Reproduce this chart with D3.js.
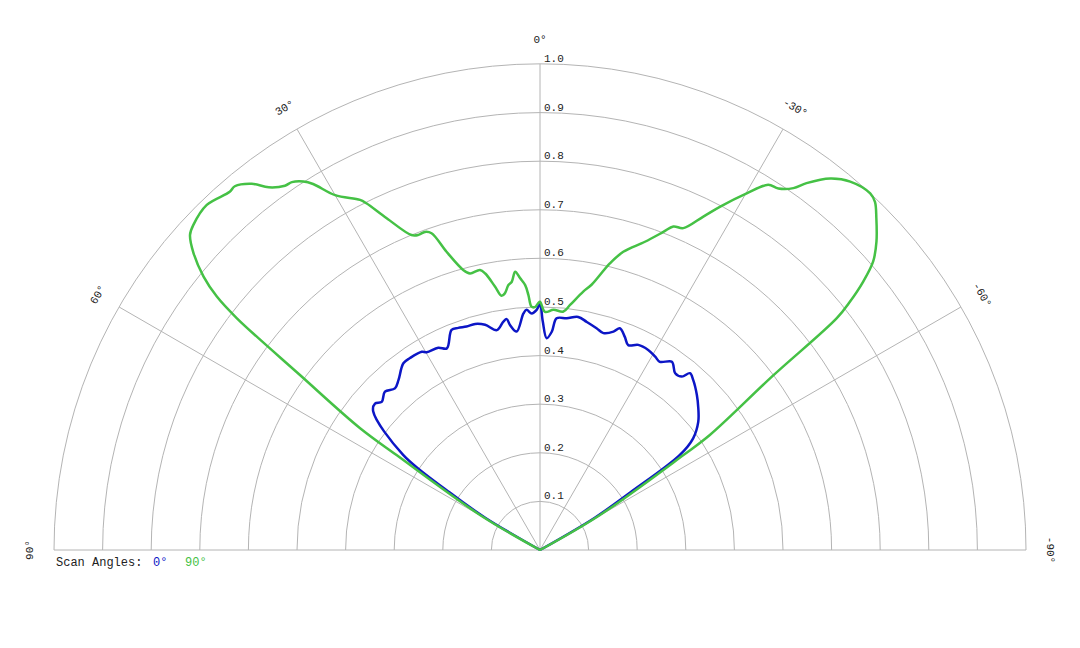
<!DOCTYPE html>
<html>
<head>
<meta charset="utf-8">
<script src="https://cdn.jsdelivr.net/npm/d3@7"></script>
<style>
  html, body { margin: 0; padding: 0; background: #fff; }
  text { font-family: "Liberation Mono", "Courier New", monospace; }
</style>
</head>
<body>
<svg id="chart" width="1080" height="648"></svg>
<script>
// ---- data ----
const ringValues = [0.1, 0.2, 0.3, 0.4, 0.5, 0.6, 0.7, 0.8, 0.9, 1.0];
const ringLabels = ["0.1", "0.2", "0.3", "0.4", "0.5", "0.6", "0.7", "0.8", "0.9", "1.0"];
const spokeAngles = [90, 60, 30, 0, -30, -60, -90];
const spokeLabels = ["90°", "60°", "30°", "0°", "-30°", "-60°", "-90°"];
const seriesNames = ["0°", "90°"];

// scan angle 90° (green): angle in degrees (positive = left), normalized value
const greenAngles = [60, 59.7, 56.5, 55.9, 53.9, 52.6, 51.9, 50.9, 49.4, 48.0, 46.8, 44.0, 40.9, 40.0, 38.2, 36.8, 35.0, 34.0, 32.7, 31.8, 30.0, 27.2, 26.6, 24.8, 22.2, 21.1, 19.9, 18.9, 17.4, 15.3, 14.2, 12.1, 11.2, 9.7, 8.6, 7.8, 6.8, 6.0, 5.1, 4.2, 3.2, 2.6, 2.0, 1.2, 0.4, 0, -1.2, -3.2, -5.6, -7.0, -9.5, -11.0, -13.7, -15.6, -18.8, -21.2, -22.4, -24.0, -26.1, -27.7, -30.1, -32.0, -33.4, -35.0, -36.0, -38.0, -40.1, -42.8, -43.9, -45.4, -47.5, -49.1, -50.3, -51.3, -52.0, -53.2, -55.9, -56.5, -59.7, -60];
const greenValues = [0, 0.143, 0.354, 0.447, 0.612, 0.785, 0.845, 0.892, 0.939, 0.969, 0.978, 0.987, 0.975, 0.977, 0.959, 0.932, 0.915, 0.913, 0.901, 0.886, 0.843, 0.810, 0.798, 0.752, 0.700, 0.695, 0.696, 0.689, 0.643, 0.597, 0.587, 0.589, 0.580, 0.550, 0.529, 0.533, 0.549, 0.555, 0.575, 0.561, 0.546, 0.525, 0.501, 0.500, 0.508, 0.511, 0.490, 0.495, 0.493, 0.508, 0.539, 0.556, 0.607, 0.637, 0.670, 0.702, 0.720, 0.725, 0.764, 0.798, 0.848, 0.886, 0.891, 0.909, 0.933, 0.970, 0.991, 1.000, 0.994, 0.972, 0.939, 0.907, 0.864, 0.817, 0.775, 0.598, 0.422, 0.354, 0.143, 0];

// scan angle 0° (blue)
const blueAngles = [60, 59.5, 57.5, 55.2, 50.3, 48.4, 46.9, 44.4, 41.9, 39.8, 36.2, 34.1, 30.8, 29.8, 26.7, 24.8, 21.9, 20.2, 18.2, 16.0, 13.7, 11.1, 9.1, 8.2, 7.6, 6.1, 4.0, 3.2, 2.0, 0.8, 0, -0.7, -1.8, -3.1, -4.1, -6.6, -9.3, -11.6, -14.3, -16.3, -18.6, -19.8, -21.7, -23.3, -25.6, -28.4, -30.8, -32.5, -35.0, -37.4, -39.3, -40.3, -42.0, -45.3, -48.2, -51.0, -53.9, -55.8, -57.5, -59.5, -60];
const blueValues = [0, 0.13, 0.22, 0.343, 0.446, 0.454, 0.446, 0.456, 0.447, 0.455, 0.476, 0.477, 0.475, 0.469, 0.466, 0.457, 0.488, 0.487, 0.484, 0.484, 0.477, 0.461, 0.476, 0.480, 0.467, 0.452, 0.488, 0.495, 0.487, 0.494, 0.506, 0.470, 0.436, 0.450, 0.478, 0.480, 0.486, 0.479, 0.471, 0.465, 0.474, 0.485, 0.472, 0.459, 0.468, 0.468, 0.463, 0.459, 0.473, 0.458, 0.461, 0.477, 0.471, 0.454, 0.437, 0.419, 0.390, 0.348, 0.22, 0.13, 0];

// ---- layout ----
const cx = 540, cy = 550, R = 486;
const gridColor = "#b4b4b4";
const blue = "#0c16c6", green = "#45c145";

const svg = d3.select("#chart");
const g = svg.append("g").attr("transform", `translate(${cx},${cy})`);
const r = d3.scaleLinear().domain([0, 1]).range([0, R]);
const toRad = d => -d * Math.PI / 180;   // positive degrees go left

// rings
ringValues.forEach(v => {
  const p = d3.path();
  p.arc(0, 0, r(v), Math.PI, 2 * Math.PI);
  g.append("path").attr("d", p.toString())
    .attr("fill", "none").attr("stroke", gridColor).attr("stroke-width", 1);
});

// spokes
spokeAngles.forEach(a => {
  const t = toRad(a);
  g.append("line")
    .attr("x1", 0).attr("y1", 0)
    .attr("x2", r(1) * Math.sin(t)).attr("y2", -r(1) * Math.cos(t))
    .attr("stroke", gridColor).attr("stroke-width", 1);
});

// ring labels
ringValues.forEach((v, i) => {
  g.append("text")
    .attr("x", 4).attr("y", -r(v) - 2)
    .attr("font-size", 11).attr("fill", "#222")
    .text(ringLabels[i]);
});

// angle labels
const labelR = 511;
spokeAngles.forEach((a, i) => {
  const t = toRad(a);
  const x = labelR * Math.sin(t), y = -labelR * Math.cos(t);
  g.append("text")
    .attr("transform", `translate(${x},${y}) rotate(${-a})`)
    .attr("text-anchor", "middle").attr("dy", "0.35em")
    .attr("font-size", 11).attr("fill", "#222")
    .text(spokeLabels[i]);
});

// curves
const line = d3.lineRadial()
  .angle(d => toRad(d[0]))
  .radius(d => r(d[1]))
  .curve(d3.curveCatmullRom.alpha(0.5));

const blueData = blueAngles.map((a, i) => [a, blueValues[i]]);
const greenData = greenAngles.map((a, i) => [a, greenValues[i]]);

g.append("path").attr("d", line(blueData))
  .attr("fill", "none").attr("stroke", blue).attr("stroke-width", 2.5)
  .attr("stroke-linejoin", "round");
g.append("path").attr("d", line(greenData))
  .attr("fill", "none").attr("stroke", green).attr("stroke-width", 2.5)
  .attr("stroke-linejoin", "round");

// legend
const legend = svg.append("g").attr("font-size", 12);
legend.append("text").attr("x", 56).attr("y", 566).attr("fill", "#222").text("Scan Angles:");
legend.append("text").attr("x", 153).attr("y", 566).attr("fill", blue).text(seriesNames[0]);
legend.append("text").attr("x", 185).attr("y", 566).attr("fill", green).text(seriesNames[1]);
</script>
</body>
</html>
